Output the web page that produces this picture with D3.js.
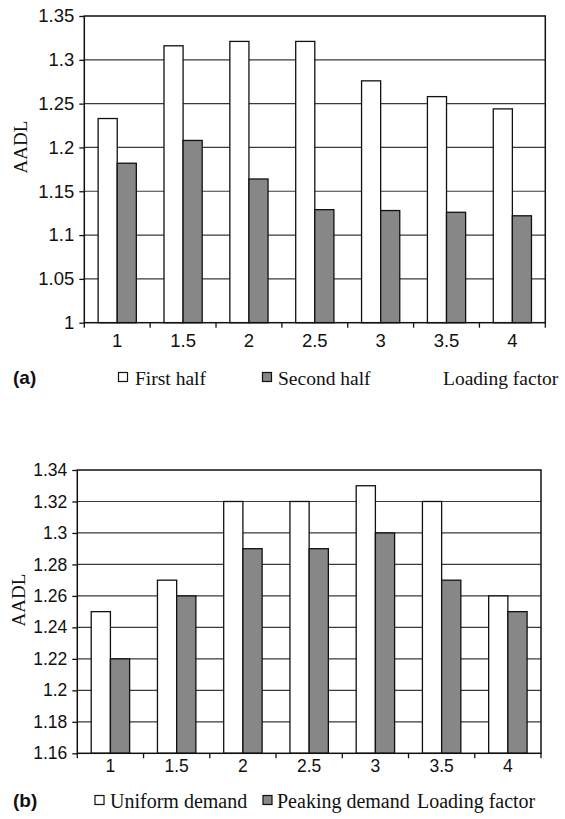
<!DOCTYPE html>
<html><head><meta charset="utf-8">
<script src="https://cdn.jsdelivr.net/npm/d3@7"></script>
<style>body{margin:0;background:#fff}svg{display:block}</style>
</head><body>
<script>
const categories = ["1","1.5","2","2.5","3","3.5","4"];
const firstHalf  = [1.233,1.316,1.321,1.321,1.276,1.258,1.244];
const secondHalf = [1.182,1.208,1.164,1.129,1.128,1.126,1.122];
const ticksA = [1,1.05,1.1,1.15,1.2,1.25,1.3,1.35];
const uniformDemand = [1.25,1.27,1.32,1.32,1.33,1.32,1.26];
const peakingDemand = [1.22,1.26,1.29,1.29,1.30,1.27,1.25];
const ticksB = [1.16,1.18,1.2,1.22,1.24,1.26,1.28,1.3,1.32,1.34];

const svg = d3.select("body").append("svg").attr("width",565).attr("height",819);

function chart(o){
  const g = svg.append("g");
  const x0 = d3.scaleBand().domain(categories).range([o.left,o.right]).paddingInner(0.42).paddingOuter(0.21);
  const x1 = d3.scaleBand().domain([0,1]).range([0,x0.bandwidth()]);
  const y = d3.scaleLinear().domain([o.ticks[0],o.ticks[o.ticks.length-1]]).range([o.bottom,o.top]);
  // gridlines
  g.append("g").selectAll("line").data(o.ticks.slice(1,-1)).join("line")
    .attr("x1",o.left).attr("x2",o.right).attr("y1",d=>y(d)).attr("y2",d=>y(d))
    .attr("stroke","#3a3a3a").attr("stroke-width",1.2);
  // bars
  const series=[o.s1,o.s2], fills=["#ffffff","#878787"];
  series.forEach((s,i)=>{
    g.append("g").selectAll("rect").data(s).join("rect")
      .attr("x",(d,j)=>x0(categories[j])+x1(i)).attr("width",x1.bandwidth())
      .attr("y",d=>y(d)).attr("height",d=>y(o.ticks[0])-y(d))
      .attr("fill",fills[i]).attr("stroke","#111").attr("stroke-width",1.3);
  });
  // border
  g.append("rect").attr("x",o.left).attr("y",o.top).attr("width",o.right-o.left).attr("height",o.bottom-o.top)
    .attr("fill","none").attr("stroke","#111").attr("stroke-width",1.5);
  // y axis
  const ya = g.append("g").attr("transform",`translate(${o.left},0)`)
    .call(d3.axisLeft(y).tickValues(o.ticks).tickFormat(d=>String(+d.toFixed(2))).tickSize(5).tickPadding(5));
  ya.select(".domain").remove();
  ya.selectAll("line").attr("stroke","#111").attr("stroke-width",1.3);
  ya.selectAll("text").attr("font-family","'Liberation Sans',Arial,sans-serif").attr("font-size",o.yfs).attr("fill","#111");
  // x axis: labels at centers, ticks at boundaries
  const step = x0.step();
  const bounds = d3.range(categories.length+1).map(k=>o.left + k*(o.right-o.left)/categories.length);
  g.append("g").selectAll("line").data(bounds).join("line")
    .attr("x1",d=>d).attr("x2",d=>d).attr("y1",o.bottom).attr("y2",o.bottom+5)
    .attr("stroke","#111").attr("stroke-width",1.3);
  g.append("g").selectAll("text").data(categories).join("text")
    .attr("x",d=>x0(d)+x0.bandwidth()/2).attr("y",o.xlabY).attr("text-anchor","middle")
    .attr("font-family","'Liberation Sans',Arial,sans-serif").attr("font-size",o.xfs).attr("fill","#111").text(d=>d);
  // y title
  g.append("text").attr("transform",`translate(${o.ytX},${o.ytY}) rotate(-90)`).attr("text-anchor","middle")
    .attr("font-family","'Liberation Serif','Times New Roman',serif").attr("font-size",19).attr("fill","#111").text("AADL");
  // panel label
  g.append("text").attr("x",13).attr("y",o.legY).attr("font-family","'Liberation Sans',Arial,sans-serif")
    .attr("font-weight","bold").attr("font-size",19).attr("fill","#111").text(o.panel);
  // legend
  o.legend.forEach((l,i)=>{
    if(l.sq){
      g.append("rect").attr("x",l.sx).attr("y",o.legY-11.5).attr("width",9).attr("height",9)
        .attr("fill",l.sq).attr("stroke","#111").attr("stroke-width",1.2);
    }
    g.append("text").attr("x",l.tx).attr("y",o.legY+1).attr("font-family","'Liberation Serif','Times New Roman',serif")
      .attr("font-size",o.lfs).attr("fill","#111").text(l.t);
  });
}

chart({left:84.3,right:545.3,top:16,bottom:322.7,ticks:ticksA,s1:firstHalf,s2:secondHalf,
  yfs:18.5,xfs:18.5,xlabY:347,ytX:27,ytY:147,legY:384,panel:"(a)",lfs:19.5,
  legend:[{sq:"#fff",sx:118.5,tx:135,t:"First half"},{sq:"#878787",sx:262.5,tx:278,t:"Second half"},{tx:443,t:"Loading factor"}]});
chart({left:77.3,right:541,top:470,bottom:753.3,ticks:ticksB,s1:uniformDemand,s2:peakingDemand,
  yfs:17.5,xfs:17.5,xlabY:772,ytX:25,ytY:600,legY:807,panel:"(b)",lfs:20,
  legend:[{sq:"#fff",sx:95,tx:110,t:"Uniform demand"},{sq:"#878787",sx:263,tx:277,t:"Peaking demand"},{tx:417,t:"Loading factor"}]});
</script>
</body></html>
